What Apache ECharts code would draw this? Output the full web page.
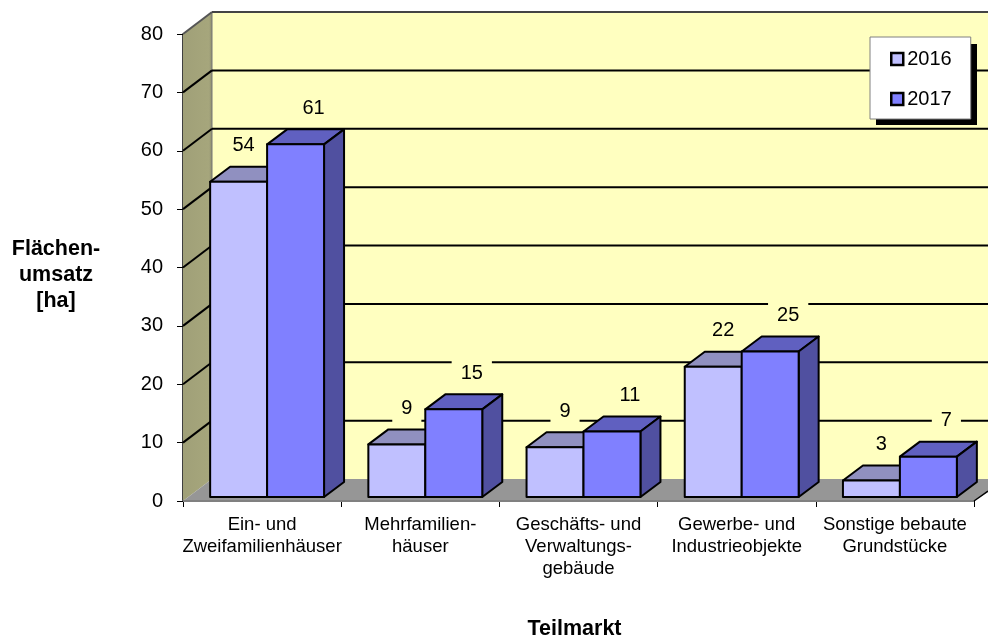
<!DOCTYPE html>
<html><head><meta charset="utf-8">
<style>html,body{margin:0;padding:0;background:#fff}#c{width:988px;height:637px}</style>
<script src="https://cdn.jsdelivr.net/npm/echarts@6/dist/echarts.min.js"></script>
</head><body><div id="c"></div>
<script>
const categories = ["Ein- und\nZweifamilienhäuser","Mehrfamilien-\nhäuser","Geschäfts- und\nVerwaltungs-\ngebäude","Gewerbe- und\nIndustrieobjekte","Sonstige bebaute\nGrundstücke"];
const values2016 = [54.1, 9.1, 8.6, 22.4, 2.9];
const values2017 = [60.5, 15.1, 11.3, 25, 7];
const labels2016 = ["54","9","9","22","3"];
const labels2017 = ["61","15","11","25","7"];
const yTicks = [0,10,20,30,40,50,60,70,80];

const FONT = '"Liberation Sans", Arial, sans-serif';
const chart = echarts.init(document.getElementById('c'), null, {renderer:'canvas'});
const DX = 29, DY = -22;          // full depth of the 3D box
const WALL = '#FFFFC0';

function wallItem(params, api){
  const v = api.value(1);
  const py = api.coord([0, v])[1];
  const cs = params.coordSys;
  const x0 = cs.x, xr = cs.x + cs.width;
  const kids = [];
  if (params.dataIndex === 0){
    const yTop = cs.y, yBot = cs.y + cs.height;
    kids.push({type:'polygon', shape:{points:[[x0+DX,yTop+DY],[1000,yTop+DY],[1000,yBot+DY],[x0+DX,yBot+DY]]}, style:{fill:WALL}});
    kids.push({type:'polygon', shape:{points:[[x0,yTop],[x0+DX,yTop+DY],[x0+DX,yBot+DY],[x0,yBot]]},
      style:{fill:{type:'linear',x:0,y:0,x2:1,y2:0,colorStops:[{offset:0,color:'#A0A078'},{offset:.9,color:'#A6A67C'},{offset:1,color:'#8C8C70'}]}}});
    kids.push({type:'polygon', shape:{points:[[x0,yBot],[x0+DX,yBot+DY],[1000,yBot+DY],[1000,yBot+DY+13],[xr+14,yBot-9],[xr,yBot]]}, style:{fill:'#969696'}});
    kids.push({type:'line', shape:{x1:x0,y1:yBot,x2:xr,y2:yBot}, style:{stroke:'#808080',lineWidth:2}});
    kids.push({type:'line', shape:{x1:xr,y1:yBot,x2:xr+14,y2:yBot-10}, style:{stroke:'#000',lineWidth:1.5}});
    kids.push({type:'line', shape:{x1:x0+DX,y1:yTop+DY,x2:x0+DX,y2:yBot+DY}, style:{stroke:'#777',lineWidth:1}});
  }
  if (v > 0){
    kids.push({type:'line', shape:{x1:x0,y1:py,x2:x0+DX,y2:py+DY}, style:{stroke: v===80?'#555':'#000',lineWidth:2}});
    kids.push({type:'line', shape:{x1:x0+DX,y1:py+DY,x2:1000,y2:py+DY}, style:{stroke: v===80?'#444':'#000',lineWidth:2}});
  }
  return {type:'group', children:kids};
}

function barItem(shiftBars, labelShift, colors, texts){
  return function(params, api){
    const i = api.value(0), v = api.value(1);
    const band = api.size([1,0])[0];
    const w = band * 0.36;
    const c = api.coord([i, v]), b = api.coord([i, 0]);
    const x1 = c[0] + 5 + shiftBars * w, x2 = x1 + w;
    const top = c[1] - 3.5, bot = b[1] - 4;
    const dx = 20, dy = -15;
    const line = {stroke:'#000', lineWidth:2, lineJoin:'round'};
    return {type:'group', children:[
      {type:'text', z2:1, x:(x1+x2)/2 + (params.dataIndex===0 && labelShift<15 ? 5 : labelShift), y:top-36,
        style:{text:texts[params.dataIndex], fill:'#000', font:'20px '+FONT, align:'center', verticalAlign:'middle', backgroundColor:WALL, padding:[5,9,5,9]}},
      {type:'polygon', z2:2, shape:{points:[[x1,top],[x1+dx,top+dy],[x2+dx,top+dy],[x2,top]]}, style:Object.assign({fill:colors.top},line)},
      {type:'polygon', z2:2, shape:{points:[[x2,top],[x2+dx,top+dy],[x2+dx,bot+dy],[x2,bot]]}, style:Object.assign({fill:colors.side},line)},
      {type:'rect', z2:3, shape:{x:x1,y:top,width:w,height:bot-top}, style:Object.assign({fill:colors.front},line)}
    ]};
  };
}

const c16 = {front:'#C0C0FF', top:'#9090C0', side:'#6060A0'};
const c17 = {front:'#8080FF', top:'#6060C0', side:'#5050A0'};

chart.setOption({
  animation:false,
  backgroundColor:'#fff',
  textStyle:{fontFamily:FONT},
  title:{text:'Flächen-\numsatz\n[ha]', left:56, top:236, textAlign:'center', padding:0,
    textStyle:{fontSize:21.5, fontWeight:'bold', color:'#000', lineHeight:26, fontFamily:FONT}},
  grid:{left:183, top:34, width:791, height:467, containLabel:false, outerBoundsMode:'none'},
  graphic:[{type:'rect', z:3.5, silent:true, shape:{x:876,y:44,width:101,height:81}, style:{fill:'#000'}}],
  legend:{
    left:870, top:37, orient:'vertical', padding:[12,19,10,20], itemGap:20,
    itemWidth:12, itemHeight:12, borderColor:'#808080', borderWidth:1, backgroundColor:'#fff',
    textStyle:{fontSize:20, color:'#000', fontFamily:FONT, padding:[0,0,0,-1]},
    data:[
      {name:'2016', icon:'rect', itemStyle:{color:c16.front, borderColor:'#000', borderWidth:2.5}},
      {name:'2017', icon:'rect', itemStyle:{color:c17.front, borderColor:'#000', borderWidth:2.5}}
    ]
  },
  xAxis:{type:'category', data:categories, boundaryGap:true,
    axisLine:{lineStyle:{color:'#808080',width:1.5}},
    axisTick:{show:true, length:6, alignWithLabel:false, lineStyle:{color:'#000',width:1}},
    axisLabel:{color:'#000', fontSize:18.5, lineHeight:22, margin:13, interval:0, fontFamily:FONT},
    name:'Teilmarkt', nameLocation:'middle', nameGap:117,
    nameTextStyle:{fontSize:21.5, fontWeight:'bold', color:'#000', fontFamily:FONT, padding:[0,8,0,0]},
    splitLine:{show:false}},
  yAxis:{type:'value', min:0, max:80, interval:10,
    axisLine:{show:true, lineStyle:{color:'#000',width:1.5}},
    axisTick:{show:true, length:6, lineStyle:{color:'#000',width:1}},
    axisLabel:{color:'#000', fontSize:20, margin:20, fontFamily:FONT},
    splitLine:{show:false}},
  series:[
    {type:'custom', name:'wall', silent:true, z:1, data:yTicks.map(v=>[0,v]), encode:{x:0,y:1}, renderItem:wallItem, clip:false},
    {type:'custom', name:'2016', z:2, itemStyle:{color:c16.front}, data:values2016.map((v,i)=>[i,v]), encode:{x:0,y:1}, renderItem:barItem(-1,10,c16,labels2016), clip:false},
    {type:'custom', name:'2017', z:3, itemStyle:{color:c17.front}, data:values2017.map((v,i)=>[i,v]), encode:{x:0,y:1}, renderItem:barItem(0,18,c17,labels2017), clip:false}
  ]
});
</script></body></html>
